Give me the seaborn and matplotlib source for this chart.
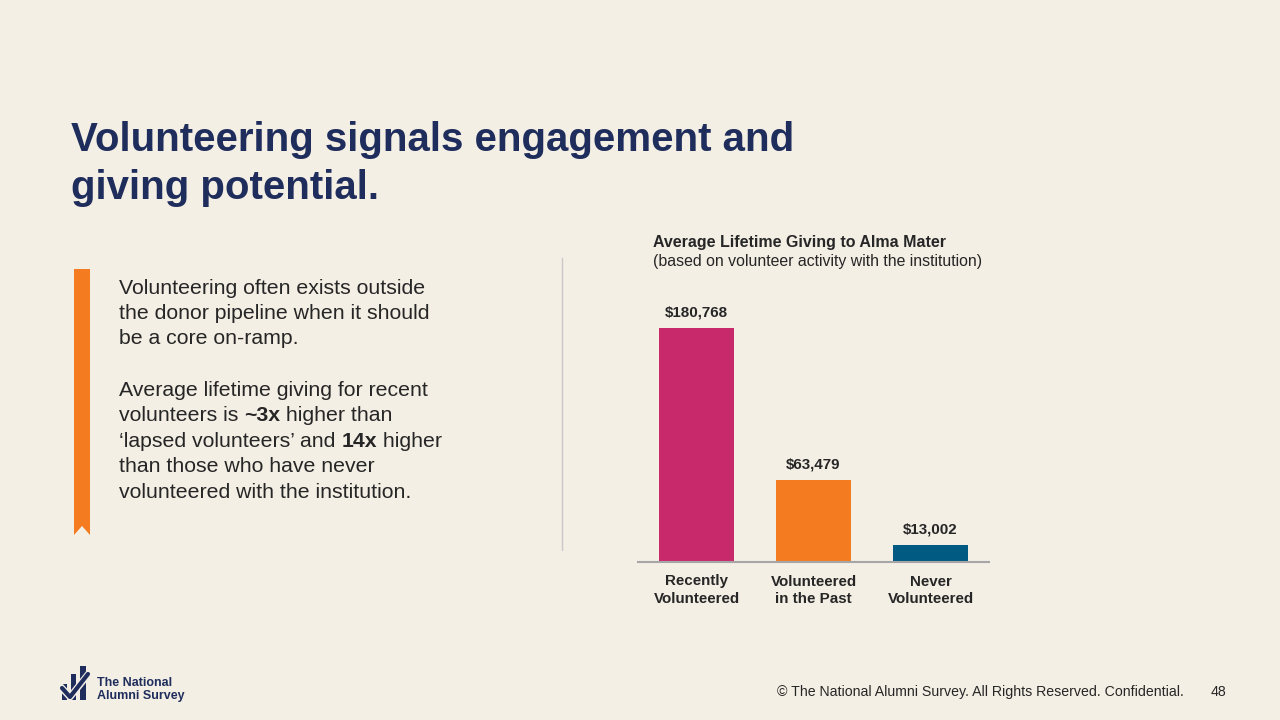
import numpy as np
import pandas as pd
import seaborn as sns
import matplotlib
matplotlib.use("Agg")
from matplotlib import pyplot as plt
from matplotlib.patches import Polygon, Rectangle
from matplotlib.lines import Line2D

# chart data
categories = ["Recently\nVolunteered", "Volunteered\nin the Past", "Never\nVolunteered"]
giving = [180768, 63479, 13002]
bar_colors = ["#C8296B", "#F47B20", "#005A82"]

title_lines = ["Volunteering signals engagement and", "giving potential."]
chart_title = "Average Lifetime Giving to Alma Mater"
chart_subtitle = "(based on volunteer activity with the institution)"
footer = "\u00a9 The National Alumni Survey. All Rights Reserved. Confidential."
page_no = "48"

# body text: each line is a list of (text, bold) pieces
body_lines = [
    [("Volunteering often exists outside", False)],
    [("the donor pipeline when it should", False)],
    [("be a core on-ramp.", False)],
    None,
    [("Average lifetime giving for recent", False)],
    [("volunteers is ", False), ("~3x", True), (" higher than", False)],
    [("\u2018lapsed volunteers\u2019 and ", False), ("14x", True), (" higher", False)],
    [("than those who have never", False)],
    [("volunteered with the institution.", False)],
]

BG = "#F4EFE5"
NAVY = "#1F2D5C"
TEXT = "#262626"

sns.set_theme(style="white")
plt.rcParams["font.family"] = ["Liberation Sans", "DejaVu Sans"]

W, H = 1280, 720
fig = plt.figure(figsize=(12.8, 7.2), dpi=100, facecolor=BG)


def fx(px):
    return px / W


def fy(py):
    return 1 - py / H


# title
for i, line in enumerate(title_lines):
    fig.text(fx(71), fy(140 + i * 48), line, fontsize=29, fontweight="bold",
             color=NAVY, va="center", ha="left")

# orange ribbon
ribbon = Polygon([(fx(74), fy(269)), (fx(90), fy(269)), (fx(90), fy(535)),
                  (fx(82), fy(526)), (fx(74), fy(535))],
                 closed=True, transform=fig.transFigure, facecolor="#F47B20",
                 edgecolor="none")
fig.patches.append(ribbon)

# body text with inline bold pieces
fig.canvas.draw()
renderer = fig.canvas.get_renderer()
y = 288
for line in body_lines:
    if line is None:
        y += 25.5
        continue
    x = 119
    for txt, bold in line:
        t = fig.text(fx(x), fy(y), txt, fontsize=15.3,
                     fontweight="bold" if bold else "normal",
                     color=TEXT, va="center", ha="left")
        bb = t.get_window_extent(renderer=renderer)
        x += bb.width
    y += 25.5

# divider
fig.add_artist(Line2D([fx(562), fx(562)], [fy(258), fy(550)],
                      transform=fig.transFigure, color="#C8C8C8", lw=1))

# chart
ax = fig.add_axes([fx(638), fy(562), fx(989) - fx(638), (562 - 303) / H])
ax.set_facecolor(BG)
df = pd.DataFrame({"category": categories, "giving": giving})
sns.barplot(data=df, x="category", y="giving", hue="category",
            palette=bar_colors, dodge=False, width=0.64, legend=False, ax=ax,
            saturation=1, linewidth=0)
ax.set_xlim(-0.5, 2.5)
ax.set_ylim(0, 200000)
for s in ["top", "right", "left"]:
    ax.spines[s].set_visible(False)
ax.spines["bottom"].set_color("#A6A6A6")
ax.spines["bottom"].set_linewidth(1.5)
ax.set_yticks([])
ax.set_xlabel("")
ax.set_ylabel("")
ax.tick_params(axis="x", length=0, pad=9)
for lab in ax.get_xticklabels():
    lab.set_fontweight("bold")
    lab.set_fontsize(10.9)
    lab.set_color(TEXT)
    lab.set_linespacing(1.3)
for cont in ax.containers:
    ax.bar_label(cont, labels=["${:,}".format(int(v)) for v in cont.datavalues],
                 padding=6, fontsize=10.9, fontweight="bold", color=TEXT)

fig.text(fx(653), fy(242), chart_title, fontsize=11.5, fontweight="bold",
         color=TEXT, va="center", ha="left")
fig.text(fx(653), fy(261), chart_subtitle, fontsize=11.4, color=TEXT,
         va="center", ha="left")

# footer
fig.text(fx(1184), fy(692), footer, fontsize=10.2, color=TEXT, va="center",
         ha="right")
fig.text(fx(1226), fy(692), page_no, fontsize=10.2, color=TEXT, va="center",
         ha="right")

# logo
for (x0, y0, x1, y1) in [(62, 684, 67, 700), (71, 674, 76, 700), (80, 666, 86, 700)]:
    fig.patches.append(Rectangle((fx(x0), fy(y1)), fx(x1 - x0), (y1 - y0) / H,
                                 transform=fig.transFigure, facecolor=NAVY,
                                 edgecolor="none"))
fig.add_artist(Line2D([fx(60), fx(70), fx(90)], [fy(686), fy(697), fy(672)],
                      transform=fig.transFigure, color=BG, lw=5,
                      solid_capstyle="butt"))
fig.add_artist(Line2D([fx(62), fx(70), fx(88)], [fy(688), fy(697), fy(674)],
                      transform=fig.transFigure, color=NAVY, lw=3))
fig.text(fx(97), fy(683), "The National", fontsize=9, fontweight="bold",
         color=NAVY, va="center", ha="left")
fig.text(fx(97), fy(696), "Alumni Survey", fontsize=9, fontweight="bold",
         color=NAVY, va="center", ha="left")

fig.savefig("out.png", dpi=100, facecolor=BG)
